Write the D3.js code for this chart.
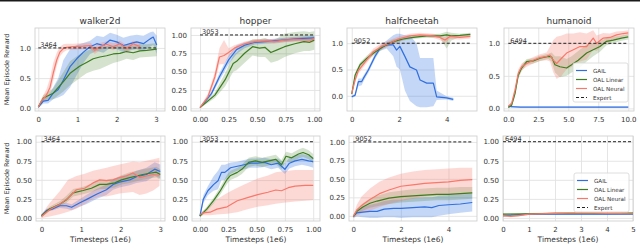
<!DOCTYPE html>
<html><head><meta charset="utf-8">
<script src="https://cdn.jsdelivr.net/npm/d3@7"></script>
<style>body{margin:0;background:#fff} svg{display:block;font-family:'DejaVu Sans',sans-serif}</style>
</head><body><svg id="c" width="640" height="245"></svg>
<script>
// ---------- data: each point is [timestep(1e6), mean, lower, upper] ----------
const seriesNames = ['GAIL','OAL Linear','OAL Neural','Expert'];
const envTitles = ['walker2d','hopper','halfcheetah','humanoid'];
const expertScores = ['3464','3053','9052','6494'];
const expertLevel = 1.0;
const topXTicks = [[0,1,2,3],[0,0.25,0.5,0.75,1],[0,2,4],[0,2.5,5,7.5,10]];
const botXTicks = [[0,1,2,3],[0,0.25,0.5,0.75,1],[0,2,4],[0,1,2,3,4,5]];
const topYTicks = [[0,0.5,1],[0,0.25,0.5,0.75,1],[0,0.5,1],[0,0.5,1]];
const botYTicks = [0,0.25,0.5,0.75,1];
const xMaxTop = [3,1,5,10];
const xMaxBot = [3,1,5,5];

const walkerTopGail = [[0,0.02,0,0.04],[0.13,0.12,0.08,0.16],[0.25,0.13,0.08,0.2],[0.38,0.25,0.15,0.35],[0.51,0.31,0.18,0.5],[0.64,0.47,0.22,0.8],[0.81,0.69,0.35,0.98],[0.98,0.82,0.55,1.05],[1.15,0.93,0.75,1.08],[1.32,1.02,0.9,1.12],[1.49,1.07,0.95,1.2],[1.66,1.04,0.92,1.18],[1.83,1.13,1.0,1.25],[2.0,1.1,0.98,1.22],[2.17,1.04,0.93,1.17],[2.34,1.07,0.96,1.2],[2.51,1.1,0.98,1.22],[2.68,1.07,0.95,1.2],[2.85,1.15,1.02,1.26],[2.93,1.18,1.05,1.27],[3.02,1.05,0.9,1.2]];
const walkerTopLinear = [[0,0.02,0,0.04],[0.13,0.17,0.12,0.22],[0.38,0.25,0.15,0.33],[0.64,0.44,0.28,0.6],[0.81,0.58,0.38,0.78],[1.06,0.7,0.5,0.9],[1.23,0.76,0.58,0.95],[1.4,0.82,0.62,1.0],[1.57,0.85,0.65,1.02],[1.74,0.87,0.7,1.03],[1.91,0.9,0.75,1.04],[2.08,0.91,0.78,1.04],[2.25,0.94,0.82,1.05],[2.42,0.92,0.8,1.04],[2.59,0.95,0.84,1.06],[2.76,0.96,0.85,1.06],[3.02,0.98,0.86,1.08]];
const walkerTopNeural = [[0,0.02,0,0.04],[0.08,0.12,0.08,0.16],[0.21,0.22,0.15,0.32],[0.3,0.35,0.25,0.5],[0.38,0.58,0.45,0.75],[0.47,0.8,0.7,0.92],[0.55,0.93,0.86,1.02],[0.64,0.99,0.93,1.06],[0.72,1.01,0.96,1.07],[0.89,1.02,0.97,1.07],[1.15,1.03,0.98,1.08],[1.32,1.04,0.99,1.09],[1.44,0.96,0.9,1.03],[1.57,1.02,0.96,1.08],[1.74,1.06,1.0,1.11],[1.91,1.02,0.96,1.08],[2.08,1.07,1.01,1.12],[2.25,0.99,0.92,1.05],[2.42,1.07,1.0,1.12],[2.6,1.02,0.96,1.08]];

const hopperTopGail = [[0,0.01,0,0.02],[0.1,0.2,0.17,0.23],[0.17,0.43,0.38,0.48],[0.25,0.66,0.6,0.72],[0.32,0.8,0.74,0.86],[0.39,0.86,0.82,0.9],[0.48,0.9,0.87,0.93],[0.65,0.92,0.89,0.95],[0.86,0.95,0.92,0.98],[1.0,0.96,0.93,0.99]];
const hopperTopLinear = [[0,0.01,0,0.02],[0.13,0.18,0.14,0.22],[0.22,0.39,0.3,0.48],[0.29,0.61,0.5,0.72],[0.32,0.64,0.52,0.76],[0.39,0.75,0.62,0.88],[0.46,0.84,0.72,0.94],[0.52,0.82,0.7,0.94],[0.57,0.83,0.7,0.96],[0.62,0.76,0.62,0.92],[0.68,0.8,0.65,0.96],[0.74,0.84,0.7,1.02],[0.83,0.88,0.75,1.04],[0.91,0.91,0.78,1.05],[0.96,0.9,0.78,1.04],[1.0,0.93,0.8,1.05]];
const hopperTopNeural = [[0,0.01,0,0.02],[0.07,0.16,0.12,0.2],[0.13,0.43,0.36,0.5],[0.17,0.7,0.6,0.82],[0.21,0.72,0.6,0.93],[0.25,0.76,0.7,0.82],[0.3,0.82,0.78,0.86],[0.39,0.88,0.85,0.91],[0.48,0.91,0.88,0.94],[0.57,0.92,0.89,0.95],[0.65,0.91,0.88,0.94],[0.74,0.93,0.9,0.96],[0.86,0.94,0.91,0.97],[0.97,0.93,0.89,0.97],[1.0,0.95,0.91,0.99]];

const cheetahTopGail = [[0,-0.02,-0.04,0],[0.14,0.01,-0.02,0.04],[0.28,0.27,0.18,0.33],[0.42,0.27,0.2,0.33],[0.49,0.33,0.27,0.38],[0.7,0.49,0.44,0.54],[0.98,0.75,0.7,0.8],[1.19,0.9,0.85,0.95],[1.47,0.97,0.9,1.05],[1.75,0.97,0.75,1.15],[1.89,0.87,0.55,1.18],[2.03,0.94,0.5,1.18],[2.24,0.75,0.1,1.15],[2.45,0.55,-0.1,1.15],[2.73,0.49,-0.2,1.0],[2.88,0.3,-0.22,0.72],[3.16,0.24,-0.22,0.72],[3.44,0.24,-0.2,0.72],[3.58,-0.02,-0.08,0.1],[4.0,-0.04,-0.07,-0.01],[4.28,-0.07,-0.1,-0.04]];
const cheetahTopLinear = [[0,0.03,0.01,0.05],[0.14,0.39,0.34,0.44],[0.35,0.59,0.54,0.64],[0.63,0.71,0.66,0.76],[0.91,0.81,0.76,0.86],[1.33,0.94,0.9,0.98],[1.75,1.03,0.99,1.07],[2.17,1.08,1.05,1.11],[2.59,1.11,1.08,1.14],[3.16,1.14,1.11,1.17],[3.72,1.14,1.1,1.18],[4.0,1.16,0.9,1.22],[4.2,1.14,1.05,1.2],[4.56,1.15,1.12,1.18],[5.0,1.17,1.14,1.2]];
const cheetahTopNeural = [[0,0.04,0.02,0.06],[0.14,0.3,0.25,0.35],[0.28,0.48,0.42,0.54],[0.56,0.64,0.58,0.7],[0.91,0.84,0.78,0.9],[1.26,0.94,0.88,1.0],[1.61,1.0,0.95,1.06],[1.96,1.08,1.03,1.13],[2.45,1.14,1.1,1.18],[2.88,1.16,1.12,1.2],[3.44,1.14,1.1,1.18],[3.72,1.11,1.06,1.16],[3.93,1.06,1.0,1.12],[4.14,1.13,1.08,1.17],[4.56,1.11,1.07,1.15],[5.0,1.13,1.09,1.17]];

const humanoidTopGail = [[0,0.03,0.02,0.04],[1,0.02,0.015,0.03],[5,0.02,0.015,0.03],[10,0.02,0.015,0.03]];
const humanoidTopLinear = [[0,0.015,0.005,0.025],[0.28,0.05,0.03,0.07],[0.56,0.23,0.18,0.28],[0.83,0.51,0.46,0.56],[1.11,0.62,0.57,0.67],[1.53,0.72,0.67,0.76],[2.08,0.73,0.69,0.77],[2.64,0.77,0.73,0.81],[3.33,0.8,0.76,0.84],[3.61,0.79,0.72,0.86],[3.89,0.67,0.55,0.8],[4.31,0.64,0.48,0.8],[4.86,0.62,0.5,0.76],[5.28,0.67,0.55,0.8],[5.83,0.74,0.6,0.88],[6.53,0.85,0.72,0.98],[7.08,0.9,0.8,1.0],[7.64,0.95,0.87,1.03],[8.19,1.03,0.97,1.08],[8.75,1.05,1.0,1.1],[9.44,1.08,1.04,1.12],[10,1.1,1.06,1.14]];
const humanoidTopNeural = [[0,0.03,0.02,0.04],[0.28,0.08,0.05,0.11],[0.56,0.28,0.22,0.34],[0.83,0.54,0.48,0.6],[1.11,0.64,0.59,0.69],[1.53,0.69,0.64,0.74],[2.08,0.74,0.69,0.79],[2.64,0.78,0.73,0.83],[3.19,0.8,0.74,0.86],[3.47,0.82,0.72,0.95],[3.75,0.74,0.55,1.05],[4.03,0.69,0.45,1.1],[4.44,0.77,0.5,1.12],[4.86,0.85,0.6,1.15],[5.42,0.9,0.65,1.15],[5.97,0.95,0.72,1.17],[6.53,0.95,0.75,1.15],[7.08,1.08,0.9,1.2],[7.36,1.0,0.88,1.12],[7.92,1.08,0.98,1.16],[8.47,1.09,1.02,1.15],[9.03,1.13,1.07,1.18],[9.58,1.15,1.1,1.19],[10,1.16,1.12,1.2]];

const walkerBotGail = [[0,0.03,0.01,0.05],[0.13,0.1,0.08,0.12],[0.29,0.12,0.1,0.14],[0.46,0.16,0.13,0.19],[0.63,0.16,0.12,0.2],[0.76,0.14,0.1,0.18],[0.97,0.2,0.15,0.25],[1.13,0.24,0.18,0.3],[1.39,0.31,0.25,0.38],[1.64,0.37,0.3,0.44],[1.81,0.44,0.37,0.51],[1.97,0.47,0.4,0.54],[2.23,0.5,0.43,0.58],[2.4,0.54,0.46,0.62],[2.65,0.57,0.48,0.66],[2.86,0.64,0.55,0.73],[3.0,0.61,0.52,0.7]];
const walkerBotLinear = [[0,0.03,0.01,0.05],[0.21,0.12,0.09,0.15],[0.46,0.18,0.15,0.22],[0.63,0.24,0.2,0.29],[0.8,0.33,0.28,0.38],[1.05,0.36,0.31,0.41],[1.26,0.39,0.34,0.45],[1.47,0.44,0.38,0.5],[1.64,0.44,0.38,0.5],[1.85,0.46,0.4,0.52],[2.02,0.5,0.44,0.56],[2.23,0.53,0.46,0.6],[2.4,0.55,0.48,0.62],[2.56,0.57,0.5,0.64],[2.77,0.59,0.52,0.66],[2.9,0.6,0.53,0.67],[3.0,0.57,0.5,0.64]];
const walkerBotNeural = [[0,0.02,0,0.05],[0.21,0.11,0.02,0.2],[0.46,0.18,0.05,0.35],[0.67,0.26,0.08,0.5],[0.88,0.37,0.12,0.55],[1.09,0.39,0.18,0.58],[1.3,0.46,0.25,0.62],[1.47,0.5,0.28,0.64],[1.64,0.49,0.28,0.66],[1.81,0.5,0.3,0.68],[1.97,0.53,0.32,0.7],[2.14,0.55,0.33,0.72],[2.31,0.59,0.34,0.74],[2.48,0.53,0.3,0.73],[2.65,0.55,0.32,0.75],[2.82,0.57,0.36,0.77],[2.98,0.56,0.42,0.79]];

const hopperBotGail = [[0,0.03,0.01,0.05],[0.03,0.25,0.2,0.3],[0.07,0.36,0.3,0.42],[0.12,0.44,0.36,0.55],[0.16,0.49,0.38,0.62],[0.19,0.6,0.5,0.7],[0.22,0.6,0.5,0.7],[0.27,0.66,0.58,0.73],[0.33,0.68,0.62,0.74],[0.39,0.7,0.64,0.76],[0.45,0.72,0.66,0.78],[0.51,0.72,0.66,0.78],[0.57,0.73,0.67,0.79],[0.63,0.7,0.64,0.77],[0.69,0.72,0.66,0.78],[0.75,0.64,0.58,0.72],[0.79,0.72,0.65,0.79],[0.84,0.75,0.68,0.82],[0.9,0.77,0.7,0.84],[0.96,0.75,0.68,0.82],[1.0,0.74,0.66,0.8]];
const hopperBotLinear = [[0,0.03,0.01,0.05],[0.06,0.12,0.09,0.15],[0.12,0.23,0.19,0.27],[0.18,0.36,0.31,0.41],[0.24,0.51,0.45,0.57],[0.27,0.56,0.5,0.62],[0.33,0.6,0.54,0.66],[0.37,0.64,0.58,0.7],[0.43,0.73,0.67,0.79],[0.49,0.75,0.69,0.81],[0.55,0.73,0.67,0.79],[0.61,0.75,0.69,0.81],[0.67,0.77,0.71,0.83],[0.72,0.7,0.64,0.76],[0.76,0.81,0.75,0.87],[0.81,0.79,0.73,0.85],[0.87,0.84,0.78,0.9],[0.91,0.86,0.8,0.92],[0.96,0.83,0.77,0.89],[1.0,0.78,0.72,0.84]];
const hopperBotNeural = [[0,0.05,0.03,0.07],[0.03,0.07,0.04,0.1],[0.09,0.08,0.04,0.16],[0.15,0.12,0.05,0.25],[0.24,0.15,0.06,0.33],[0.33,0.23,0.08,0.4],[0.42,0.27,0.12,0.46],[0.51,0.31,0.15,0.52],[0.6,0.34,0.17,0.56],[0.67,0.37,0.19,0.6],[0.72,0.36,0.2,0.61],[0.78,0.4,0.21,0.62],[0.84,0.42,0.22,0.63],[0.93,0.43,0.23,0.63],[1.0,0.43,0.24,0.63]];

const cheetahBotGail = [[0,-0.01,-0.03,0.01],[0.15,0.04,-0.01,0.09],[0.4,0.05,-0.02,0.12],[0.7,0.06,-0.03,0.15],[1.0,0.06,-0.03,0.17],[1.3,0.09,-0.02,0.2],[1.7,0.1,-0.02,0.22],[2.0,0.1,-0.03,0.22],[2.5,0.11,-0.02,0.24],[3.0,0.12,-0.02,0.25],[3.3,0.11,-0.02,0.25],[3.6,0.14,0,0.27],[4.0,0.15,0.02,0.28],[4.5,0.16,0.04,0.29],[5.0,0.18,0.06,0.3]];
const cheetahBotLinear = [[0,-0.01,-0.02,0],[0.15,0.06,0.03,0.09],[0.4,0.12,0.07,0.17],[0.7,0.17,0.11,0.23],[1.0,0.2,0.13,0.27],[1.5,0.24,0.16,0.32],[2.0,0.26,0.18,0.34],[2.5,0.27,0.19,0.36],[3.0,0.28,0.2,0.37],[3.5,0.29,0.21,0.38],[4.0,0.29,0.21,0.38],[4.5,0.3,0.22,0.39],[5.0,0.31,0.23,0.39]];
const cheetahBotNeural = [[0,-0.01,-0.03,0.01],[0.15,0.08,0,0.15],[0.35,0.14,0.03,0.26],[0.7,0.22,0.07,0.37],[1.1,0.3,0.12,0.46],[1.5,0.35,0.16,0.52],[2.0,0.4,0.2,0.57],[2.5,0.42,0.23,0.6],[3.0,0.44,0.26,0.62],[3.5,0.45,0.27,0.63],[4.0,0.46,0.28,0.64],[4.5,0.48,0.29,0.65],[5.0,0.49,0.3,0.65]];

const humanoidBotGail = [[0,0.03,0.02,0.04],[0.5,0.04,0.03,0.05],[1,0.05,0.04,0.06],[2,0.05,0.04,0.06],[3,0.05,0.04,0.06],[4,0.05,0.04,0.06],[5,0.05,0.04,0.06]];
const humanoidBotLinear = [[0,0.05,0.04,0.06],[1,0.055,0.045,0.065],[2,0.06,0.05,0.07],[3,0.06,0.05,0.07],[4,0.06,0.05,0.07],[5,0.065,0.055,0.075]];
const humanoidBotNeural = [[0,0.03,0.02,0.04],[0.3,0.02,0.01,0.03],[0.6,0.03,0.02,0.04],[1,0.05,0.04,0.06],[2,0.06,0.05,0.07],[3,0.065,0.055,0.075],[4,0.06,0.05,0.07],[5,0.055,0.045,0.065]];

// ---------- layout & style ----------
const colors = ['#2f6fdf','#3b7d1f','#f8786a'];
const bandOpacity = [0.28,0.22,0.28];
const f1 = d3.format('.1f'), f2 = d3.format('.2f'), fi = d3.format('d');

const panels = [
 {x0:35,x1:165,y0:28,y1:111, xd:[-0.084,3.23], yd:[-0.045,1.33], xt:topXTicks[0], yt:topYTicks[0], xf:fi, yf:f1, s:[walkerTopGail,walkerTopLinear,walkerTopNeural], env:0, xmax:xMaxTop[0], title:true},
 {x0:191,x1:320,y0:28,y1:111, xd:[-0.079,1.05], yd:[-0.037,1.095], xt:topXTicks[1], yt:topYTicks[1], xf:f2, yf:f2, s:[hopperTopGail,hopperTopLinear,hopperTopNeural], env:1, xmax:xMaxTop[1], title:true},
 {x0:347,x1:477,y0:28,y1:111, xd:[-0.2,5.28], yd:[-0.29,1.29], xt:topXTicks[2], yt:topYTicks[2], xf:fi, yf:f1, s:[cheetahTopGail,cheetahTopLinear,cheetahTopNeural], env:2, xmax:xMaxTop[2], title:true},
 {x0:504,x1:634,y0:28,y1:111, xd:[-0.36,10.48], yd:[-0.04,1.235], xt:topXTicks[3], yt:topYTicks[3], xf:f1, yf:f1, s:[humanoidTopGail,humanoidTopLinear,humanoidTopNeural], env:3, xmax:xMaxTop[3], title:true, legend:[573,63]},
 {x0:36,x1:165,y0:136,y1:221, xd:[-0.14,3.12], yd:[-0.04,1.075], xt:botXTicks[0], yt:botYTicks, xf:fi, yf:f2, s:[walkerBotGail,walkerBotLinear,walkerBotNeural], env:0, xmax:xMaxBot[0], xlabel:true},
 {x0:192,x1:320,y0:136,y1:221, xd:[-0.07,1.06], yd:[-0.035,1.075], xt:botXTicks[1], yt:botYTicks, xf:f2, yf:f2, s:[hopperBotGail,hopperBotLinear,hopperBotNeural], env:1, xmax:xMaxBot[1], xlabel:true},
 {x0:349,x1:477,y0:136,y1:221, xd:[-0.18,5.2], yd:[-0.07,1.08], xt:botXTicks[2], yt:botYTicks, xf:fi, yf:f2, s:[cheetahBotGail,cheetahBotLinear,cheetahBotNeural], env:2, xmax:xMaxBot[2], xlabel:true},
 {x0:503,x1:633,y0:136,y1:221, xd:[0,5], yd:[-0.04,1.075], xt:botXTicks[3], yt:botYTicks, xf:fi, yf:f2, s:[humanoidBotGail,humanoidBotLinear,humanoidBotNeural], env:3, xmax:xMaxBot[3], xlabel:true, legend:[574,173]}
];

const svg = d3.select('#c');
svg.append('rect').attr('width',640).attr('height',245).attr('fill','#fff');
svg.append('rect').attr('x',0).attr('y',0).attr('width',640).attr('height',1.5).attr('fill','#1a1a1a');

const txt = '#333';
panels.forEach((p,i) => {
  const x = d3.scaleLinear().domain(p.xd).range([p.x0,p.x1]);
  const y = d3.scaleLinear().domain(p.yd).range([p.y1,p.y0]);
  const g = svg.append('g');
  const cid = 'clip'+i;
  svg.append('clipPath').attr('id',cid).append('rect').attr('x',p.x0).attr('y',p.y0).attr('width',p.x1-p.x0).attr('height',p.y1-p.y0);

  const xa = g.append('g').attr('transform',`translate(0,${p.y1})`)
    .call(d3.axisBottom(x).tickValues(p.xt).tickFormat(p.xf).tickSize(-(p.y1-p.y0)).tickPadding(6));
  const ya = g.append('g').attr('transform',`translate(${p.x0},0)`)
    .call(d3.axisLeft(y).tickValues(p.yt).tickFormat(p.yf).tickSize(-(p.x1-p.x0)).tickPadding(4));
  [xa,ya].forEach(a => {
    a.select('.domain').remove();
    a.selectAll('line').attr('stroke','#e2e2e2').attr('stroke-width',0.9);
    a.selectAll('text').attr('fill',txt).attr('font-size',7).attr('font-family','DejaVu Sans');
  });
  g.append('rect').attr('x',p.x0).attr('y',p.y0).attr('width',p.x1-p.x0).attr('height',p.y1-p.y0)
    .attr('fill','none').attr('stroke','#d0d0d0').attr('stroke-width',0.9);

  const plot = g.append('g').attr('clip-path',`url(#${cid})`);
  const area = d3.area().x(d=>x(d[0])).y0(d=>y(d[2])).y1(d=>y(d[3]));
  const line = d3.line().x(d=>x(d[0])).y(d=>y(d[1]));
  p.s.forEach((s,k) => {
    plot.append('path').attr('d',area(s)).attr('fill',colors[k]).attr('fill-opacity',bandOpacity[k]).attr('stroke','none');
  });
  p.s.forEach((s,k) => {
    plot.append('path').attr('d',line(s)).attr('fill','none').attr('stroke',colors[k]).attr('stroke-width',1.2).attr('stroke-linejoin','round');
  });
  plot.append('line').attr('x1',x(0)).attr('x2',x(p.xmax)).attr('y1',y(expertLevel)).attr('y2',y(expertLevel))
    .attr('stroke','#222').attr('stroke-width',1).attr('stroke-dasharray','3,2');
  g.append('text').attr('x',x(0)+2).attr('y',y(expertLevel)-0.5).text(expertScores[p.env])
    .attr('fill',txt).attr('font-size',6.5);

  if (p.title) g.append('text').attr('x',(p.x0+p.x1)/2).attr('y',p.y0-4.5).attr('text-anchor','middle')
    .attr('fill',txt).attr('font-size',9).text(envTitles[p.env]);
  if (p.xlabel) g.append('text').attr('x',(p.x0+p.x1)/2).attr('y',242).attr('text-anchor','middle')
    .attr('fill',txt).attr('font-size',7.5).text('Timesteps (1e6)');

  if (p.legend) {
    const [lx,ly] = p.legend;
    const lg = g.append('g');
    lg.append('rect').attr('x',lx).attr('y',ly).attr('width',55).attr('height',39).attr('rx',2)
      .attr('fill','#fff').attr('fill-opacity',0.85).attr('stroke','#d5d5d5').attr('stroke-width',0.8);
    seriesNames.forEach((n,k) => {
      const yy = ly + 7.5 + k*9;
      lg.append('line').attr('x1',lx+3).attr('x2',lx+14).attr('y1',yy).attr('y2',yy)
        .attr('stroke',k<3?colors[k]:'#222').attr('stroke-width',1.2).attr('stroke-dasharray',k<3?null:'3,2');
      lg.append('text').attr('x',lx+20).attr('y',yy+2).attr('font-size',5.6).attr('fill',txt).text(n);
    });
  }
});

// row y-labels
[[69.5],[178.5]].forEach(([cy]) => {
  svg.append('text').attr('transform',`translate(9,${cy}) rotate(-90)`).attr('text-anchor','middle')
    .attr('fill',txt).attr('font-size',6.5).text('Mean Episode Reward');
});
</script></body></html>
